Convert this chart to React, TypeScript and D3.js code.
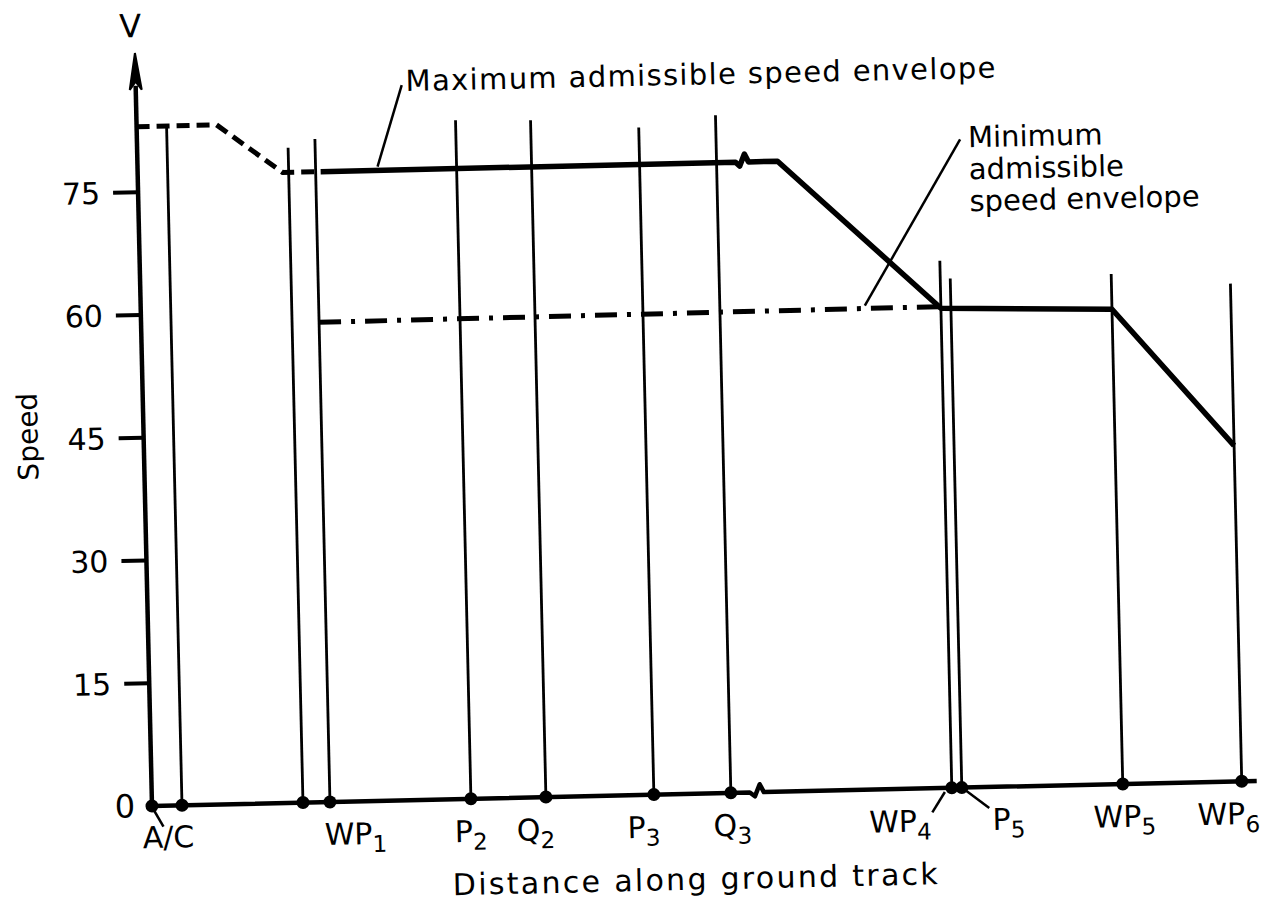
import { useEffect, useRef } from 'react';
import * as d3 from 'd3';

// distance along the ground track (arbitrary units) and speed
const lineDistance = [3, 15.1, 17.8, 31.9, 39.4, 50.2, 57.9, 80, 81, 97.1, 109];
const lineTopSpeed = [83, 80, 81, 82.9, 82.7, 81.5, 82.8, 64.4, 62.2, 62.3, 60.8];

const labelBase = ['WP', 'P', 'Q', 'P', 'Q', 'WP', 'P', 'WP', 'WP'];
const labelSub = ['1', '2', '2', '3', '3', '4', '5', '5', '6'];
const labelDistance = [17.8, 31.9, 39.4, 50.2, 57.9, 80, 81, 97.1, 109];

const maxDashedDistance = [0, 8, 14.5, 17.8];
const maxDashedSpeed = [83, 83, 77, 77];
const maxSolidDistance = [18.3, 64, 80, 97.1, 109];
const maxSolidSpeed = [77, 77, 58.6, 58.0, 41];

const minDistance = [17.8, 80];
const minSpeed = [58.6, 58.8];

const yTicks = [15, 30, 45, 60, 75];
const breakDistance = 60.7;

// label placement (px, relative to the point)
const labelDx = [-6, -17, -30, -27, -18, -21, 30, -30, -45];
const labelAnchor = ['start', 'start', 'start', 'start', 'start', 'end', 'start', 'start', 'start'];

const FONT = 'DejaVu Sans';

const App = () => {
  const svgRef = useRef<SVGSVGElement>(null!);

  useEffect(() => {
    const width = 1265;
    const height = 901;
    const svg = d3.select(svgRef.current).attr('width', width).attr('height', height);
    svg.selectAll('*').remove();
    svg.append('rect').attr('width', width).attr('height', height).attr('fill', '#fff');

    // the scan is slightly rotated, keep that tilt
    const g = svg.append('g').attr('transform', 'translate(152,806) rotate(-1.3)');

    const x = d3.scaleLinear().domain([0, 110]).range([0, 1100]);
    const y = d3.scaleLinear().domain([0, 75]).range([0, -614]);

    // vertical lines at the points
    g.selectAll('line.mark')
      .data(lineDistance)
      .enter()
      .append('line')
      .attr('x1', d => x(d))
      .attr('x2', d => x(d))
      .attr('y1', 0)
      .attr('y2', (d, i) => y(lineTopSpeed[i]))
      .attr('stroke', '#000')
      .attr('stroke-width', 2.8);

    // y axis with arrow
    g.append('line')
      .attr('x1', 0).attr('x2', 0)
      .attr('y1', 0).attr('y2', y(88))
      .attr('stroke', '#000').attr('stroke-width', 4.5);
    g.append('path')
      .attr('d', `M0,${y(92)} L-6,${y(87.5)} L0,${y(88.5)} L6,${y(87.5)} Z`)
      .attr('fill', '#000').attr('stroke', '#000').attr('stroke-width', 2);

    // x axis with a break mark
    const bx = x(breakDistance);
    g.append('path')
      .attr('d', `M0,0 L${bx - 9},0 L${bx - 4},4 L${bx + 1},-8 L${bx + 5},0 L${x(110.5)},0`)
      .attr('fill', 'none').attr('stroke', '#000').attr('stroke-width', 4.5)
      .attr('stroke-linejoin', 'round');

    // y ticks
    g.selectAll('line.tick')
      .data(yTicks)
      .enter()
      .append('line')
      .attr('x1', -25).attr('x2', 0)
      .attr('y1', d => y(d)).attr('y2', d => y(d))
      .attr('stroke', '#000').attr('stroke-width', 4);
    g.selectAll('text.tick')
      .data(yTicks)
      .enter()
      .append('text')
      .attr('x', -38)
      .attr('y', d => y(d))
      .attr('dy', '0.36em')
      .attr('text-anchor', 'end')
      .attr('font-family', FONT)
      .attr('font-size', 30)
      .text(d => d);
    g.append('text')
      .attr('x', -17).attr('y', 11)
      .attr('text-anchor', 'end')
      .attr('font-family', FONT).attr('font-size', 32)
      .text('0');

    // maximum envelope
    const line = d3.line<[number, number]>().x(d => x(d[0])).y(d => y(d[1]));
    g.append('path')
      .attr('d', line(maxDashedDistance.map((d, i) => [d, maxDashedSpeed[i]] as [number, number])))
      .attr('fill', 'none').attr('stroke', '#000').attr('stroke-width', 5)
      .attr('stroke-dasharray', '13 7');

    const solidPts = maxSolidDistance.map((d, i) => [d, maxSolidSpeed[i]] as [number, number]);
    const before = solidPts.filter(p => p[0] < breakDistance);
    const after = solidPts.filter(p => p[0] > breakDistance);
    const yb = y(77);
    const solidPath =
      line(before) +
      ` L${bx - 9},${yb} L${bx - 5},${yb + 4} L${bx},${yb - 8} L${bx + 4},${yb} ` +
      line(after)!.replace(/^M/, 'L');
    g.append('path')
      .attr('d', solidPath)
      .attr('fill', 'none').attr('stroke', '#000').attr('stroke-width', 5.5)
      .attr('stroke-linejoin', 'round');

    // minimum envelope
    g.append('path')
      .attr('d', line(minDistance.map((d, i) => [d, minSpeed[i]] as [number, number])))
      .attr('fill', 'none').attr('stroke', '#000').attr('stroke-width', 5)
      .attr('stroke-dasharray', '22 10 4 10');

    // dots on the track
    g.selectAll('circle')
      .data([0, ...lineDistance])
      .enter()
      .append('circle')
      .attr('cx', d => x(d))
      .attr('cy', 0)
      .attr('r', 6.5)
      .attr('fill', '#000');

    // point labels
    const lbl = g.selectAll('text.lbl')
      .data(labelBase)
      .enter()
      .append('text')
      .attr('x', (d, i) => x(labelDistance[i]) + labelDx[i])
      .attr('y', 43)
      .attr('text-anchor', (d, i) => labelAnchor[i])
      .attr('font-family', FONT)
      .attr('font-size', 30);
    lbl.append('tspan').text(d => d);
    lbl.append('tspan').attr('font-size', 23).attr('dy', 8).text((d, i) => labelSub[i]);

    g.append('text')
      .attr('x', -10).attr('y', 42)
      .attr('font-family', FONT).attr('font-size', 30)
      .text('A/C');

    // leaders
    const leaders: [number, number, number, number][] = [
      [0, 1, 11, 21],
      [793, 4, 780, 24],
      [814, 3, 837, 21],
      [266, -715, 240, -634],
      [823, -648, 724, -484],
    ];
    g.selectAll('line.leader')
      .data(leaders)
      .enter()
      .append('line')
      .attr('x1', d => d[0]).attr('y1', d => d[1])
      .attr('x2', d => d[2]).attr('y2', d => d[3])
      .attr('stroke', '#000').attr('stroke-width', 2.5);

    // annotations
    g.append('text')
      .attr('x', 270).attr('y', -709)
      .attr('font-family', FONT).attr('font-size', 29)
      .attr('textLength', 590).attr('lengthAdjust', 'spacing')
      .text('Maximum admissible speed envelope');

    const minLines = ['Minimum', 'admissible', 'speed envelope'];
    g.selectAll('text.min')
      .data(minLines)
      .enter()
      .append('text')
      .attr('x', 831)
      .attr('y', (d, i) => -640 + i * 32)
      .attr('font-family', FONT)
      .attr('font-size', 29)
      .text(d => d);

    g.append('text')
      .attr('x', 299).attr('y', 96)
      .attr('font-family', FONT).attr('font-size', 30)
      .attr('textLength', 485).attr('lengthAdjust', 'spacing')
      .text('Distance along ground track');

    g.append('text')
      .attr('transform', 'translate(-106,-372) rotate(-90)')
      .attr('text-anchor', 'middle')
      .attr('font-family', FONT).attr('font-size', 28)
      .text('Speed');

    g.append('text')
      .attr('x', -4).attr('y', -769)
      .attr('text-anchor', 'middle')
      .attr('font-family', FONT).attr('font-size', 32)
      .text('V');

    return () => {
      svgRef.current.innerHTML = '';
    };
  }, []);

  return <svg ref={svgRef} style={{ position: 'absolute', left: 0, top: 0, display: 'block' }}></svg>;
};

export default App;
